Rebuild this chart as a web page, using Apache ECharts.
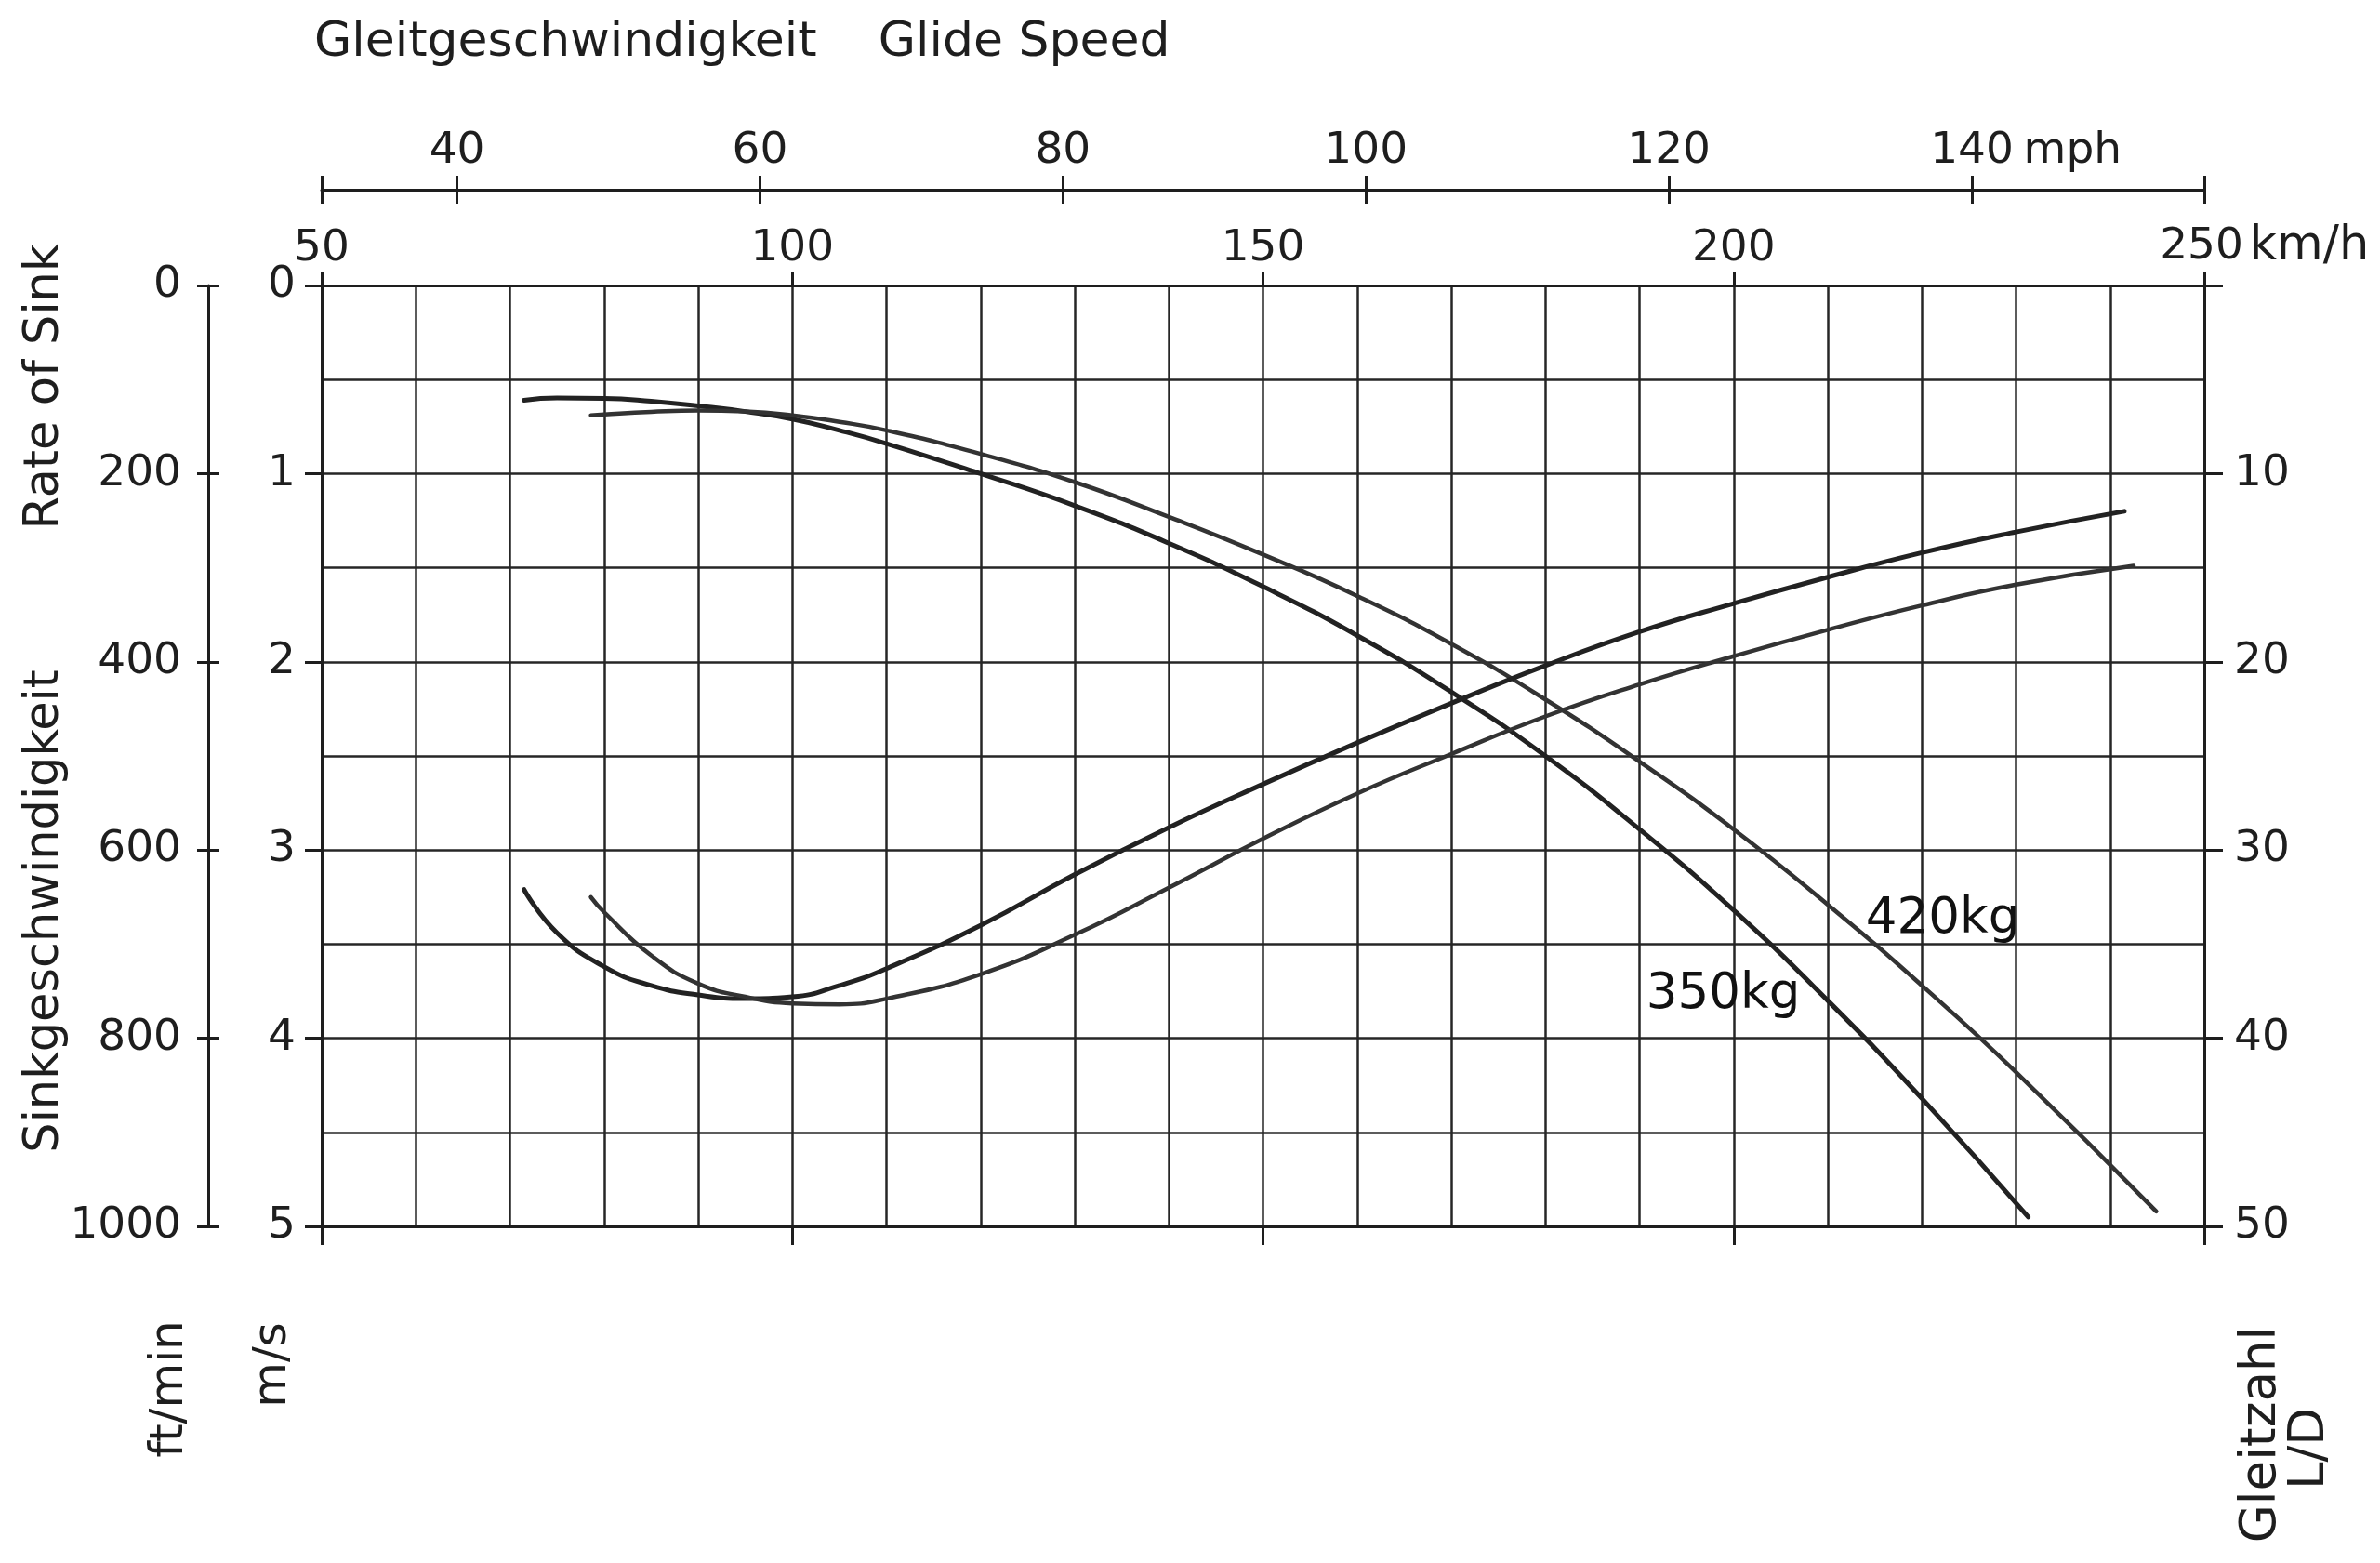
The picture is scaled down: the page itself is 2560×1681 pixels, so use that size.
<!DOCTYPE html>
<html><head><meta charset="utf-8">
<script src="https://cdn.jsdelivr.net/npm/echarts@6/dist/echarts.min.js"></script>
<style>html,body{margin:0;padding:0;background:#fff}#c{width:2560px;height:1681px}</style>
</head><body><div id="c"></div>
<script>
// ---- data ----
const sinkSpeeds350 = [71.5,75,80,85,90,95,100,105,110,120,130,140,150,160,170,180,190,200,210,220,231.3];
const sink350 = [0.61,0.598,0.60,0.615,0.64,0.67,0.71,0.77,0.84,1.0,1.17,1.37,1.60,1.86,2.16,2.50,2.89,3.32,3.80,4.32,4.95];
const sinkSpeeds420 = [78.6,80,85,90,95,100,105,110,120,130,140,150,160,170,180,190,200,210,220,230,244.9];
const sink420 = [0.69,0.685,0.672,0.665,0.67,0.69,0.725,0.77,0.895,1.045,1.23,1.43,1.65,1.905,2.20,2.53,2.89,3.29,3.72,4.18,4.92];
const ldSpeeds350 = [71.5,75,80,85,90,95,100,105,110,120,130,140,150,160,170,180,190,200,210,220,230,241.5];
const ld350 = [32.1,34.4,36.2,37.2,37.7,37.9,37.8,37.2,36.3,34.0,31.3,28.8,26.5,24.3,22.2,20.2,18.4,16.9,15.5,14.2,13.1,12.0];
const ldSpeeds420 = [78.6,80,85,90,95,100,105,110,120,130,140,150,160,170,180,190,200,210,220,230,242.5];
const ld420 = [32.5,33.3,35.6,37.1,37.8,38.15,38.2,37.9,36.6,34.5,32.0,29.4,27.0,24.9,22.9,21.2,19.7,18.3,17.0,15.9,14.9];
const kmhTicks = [50,100,150,200,250];
const mphTicks = [40,60,80,100,120,140];
const msTicks = [0,1,2,3,4,5];
const ldTicks = [0,10,20,30,40,50];
const ldLabels = [10,20,30,40,50];
const massLabels = ['350kg','420kg'];
const labelAnchors = [[198.9,3.77],[222.2,3.37]];   // km/h, m/s

const MPH = 1.609344;
const INK = '#1e1e1e';
const GRIDC = '#262626';
const FONT = '"DejaVu Sans", sans-serif';
const zip = (a,b) => a.map((v,i) => [v,b[i]]);

const chart = echarts.init(document.getElementById('c'), null, {renderer:'canvas'});
const lbl = (extra) => Object.assign({color: INK, fontFamily: FONT, fontSize: 47}, extra);
const line = (w) => ({show:true, onZero:false, lineStyle:{color: INK, width: w}});
const noLine = {show:false, onZero:false};
const mphMin = 50/MPH, mphMax = 250/MPH;
const mphTickVals = [mphMin].concat(mphTicks, [mphMax]);

const option = {
  backgroundColor: '#ffffff',
  animation: false,
  grid: {left: 346, right: 189, top: 307, bottom: 362, containLabel: false},
  xAxis: [
    { // 0: km/h grid lines (every 10)
      type:'value', position:'bottom', min:50, max:250, interval:10,
      axisLine: line(3), axisTick: {show:false}, axisLabel: {show:false},
      splitLine: {show:true, lineStyle:{color:GRIDC, width:2.5}}
    },
    { // 1: bottom ticks at 50-steps
      type:'value', position:'bottom', min:50, max:250,
      axisLine: noLine,
      axisTick: {show:true, customValues: kmhTicks, length: 20, lineStyle:{color:INK, width:3}},
      axisLabel: {show:false}, splitLine: {show:false}
    },
    { // 2: top km/h labels
      type:'value', position:'top', min:50, max:250,
      axisLine: line(3),
      axisTick: {show:true, customValues: kmhTicks, length: 14, lineStyle:{color:INK, width:3}},
      axisLabel: lbl({customValues: kmhTicks, margin: 16,
        formatter: v => v === 250 ? '{s|}{n|250}{u|km/h}' : '{n|' + v + '}',
        rich: {s:{width:130}, n:{fontSize:47, fontFamily:FONT, color:INK}, u:{width:130, align:'left', fontSize:51, fontFamily:FONT, color:INK, padding:[0,0,0,6]}}}),
      splitLine: {show:false}
    },
    { // 3: mph axis (outer ticks + labels)
      type:'value', position:'top', offset:103, min:mphMin, max:mphMax,
      axisLine: line(3),
      axisTick: {show:true, customValues: mphTickVals, length: 15, lineStyle:{color:INK, width:3}},
      axisLabel: lbl({customValues: mphTicks, margin: 18,
        formatter: v => v === 140 ? '{s|}{n|140}{u| mph}' : '{n|' + v + '}',
        rich: {s:{width:112}, n:{fontSize:47, fontFamily:FONT, color:INK}, u:{width:112, align:'left', fontSize:47, fontFamily:FONT, color:INK}}}),
      splitLine: {show:false}
    },
    { // 4: mph axis inner ticks (cross-ticks)
      type:'value', position:'top', offset:103, min:mphMin, max:mphMax,
      axisLine: noLine,
      axisTick: {show:true, inside:true, customValues: mphTickVals, length: 15, lineStyle:{color:INK, width:3}},
      axisLabel: {show:false}, splitLine: {show:false}
    }
  ],
  yAxis: [
    { // 0: m/s grid lines (every 0.5)
      type:'value', position:'left', min:0, max:5, interval:0.5, inverse:true,
      axisLine: line(3), axisTick: {show:false}, axisLabel: {show:false},
      splitLine: {show:true, lineStyle:{color:GRIDC, width:2.5}}
    },
    { // 1: L/D
      type:'value', position:'right', min:0, max:50, inverse:true,
      axisLine: line(3),
      axisTick: {show:true, customValues: ldTicks, length: 20, lineStyle:{color:INK, width:3}},
      axisLabel: lbl({customValues: ldLabels, margin: 32}),
      splitLine: {show:false}
    },
    { // 2: m/s ticks and labels
      type:'value', position:'left', min:0, max:5, inverse:true,
      axisLine: noLine,
      axisTick: {show:true, customValues: msTicks, length: 18, lineStyle:{color:INK, width:3}},
      axisLabel: lbl({customValues: msTicks, margin: 28}),
      splitLine: {show:false}
    },
    { // 3: ft/min
      type:'value', position:'left', offset:122, min:0, max:1000, interval:200, inverse:true,
      axisLine: line(3),
      axisTick: {show:true, length: 12, lineStyle:{color:INK, width:3}},
      axisLabel: lbl({margin: 29, formatter: v => String(v)}),
      splitLine: {show:false}
    },
    { // 4: ft/min inner ticks
      type:'value', position:'left', offset:122, min:0, max:1000, interval:200, inverse:true,
      axisLine: noLine,
      axisTick: {show:true, inside:true, length: 12, lineStyle:{color:INK, width:3}},
      axisLabel: {show:false}, splitLine: {show:false}
    }
  ],
  series: [
    {name:'Sink 350 kg', type:'line', xAxisIndex:0, yAxisIndex:0, data: zip(sinkSpeeds350, sink350),
     showSymbol:false, smooth:0.5, lineStyle:{color:'#222', width:5, cap:'round'}},
    {name:'Sink 420 kg', type:'line', xAxisIndex:0, yAxisIndex:0, data: zip(sinkSpeeds420, sink420),
     showSymbol:false, smooth:0.5, lineStyle:{color:'#333', width:4.5, cap:'round'}},
    {name:'L/D 350 kg', type:'line', xAxisIndex:0, yAxisIndex:1, data: zip(ldSpeeds350, ld350),
     showSymbol:false, smooth:0.5, lineStyle:{color:'#222', width:5, cap:'round'}},
    {name:'L/D 420 kg', type:'line', xAxisIndex:0, yAxisIndex:1, data: zip(ldSpeeds420, ld420),
     showSymbol:false, smooth:0.5, lineStyle:{color:'#333', width:4.5, cap:'round'}},
    {name:'labels', type:'scatter', xAxisIndex:0, yAxisIndex:0, symbolSize:0, silent:true,
     data: massLabels.map((n,i) => ({name:n, value:labelAnchors[i]})),
     label:{show:true, position:'inside', formatter:'{b}', color:'#111', opacity:1, fontFamily:FONT, fontSize:53}}
  ],
  graphic: [
    {type:'text', left:338, top:20, style:{text:'Gleitgeschwindigkeit    Glide Speed', font:'52px ' + FONT, fill:INK}},
    {type:'text', x:49, y:416, rotation:Math.PI/2, style:{text:'Rate of Sink', font:'51px ' + FONT, fill:INK, align:'center', verticalAlign:'middle'}},
    {type:'text', x:49, y:980, rotation:Math.PI/2, style:{text:'Sinkgeschwindigkeit', font:'51px ' + FONT, fill:INK, align:'center', verticalAlign:'middle'}},
    {type:'text', x:183, y:1494, rotation:Math.PI/2, style:{text:'ft/min', font:'50px ' + FONT, fill:INK, align:'center', verticalAlign:'middle'}},
    {type:'text', x:294, y:1468, rotation:Math.PI/2, style:{text:'m/s', font:'50px ' + FONT, fill:INK, align:'center', verticalAlign:'middle'}},
    {type:'text', x:2433, y:1543, rotation:Math.PI/2, style:{text:'Gleitzahl', font:'53px ' + FONT, fill:INK, align:'center', verticalAlign:'middle'}},
    {type:'text', x:2485, y:1558, rotation:Math.PI/2, style:{text:'L/D', font:'53px ' + FONT, fill:INK, align:'center', verticalAlign:'middle'}}
  ]
};
chart.setOption(option);
</script>
</body></html>
